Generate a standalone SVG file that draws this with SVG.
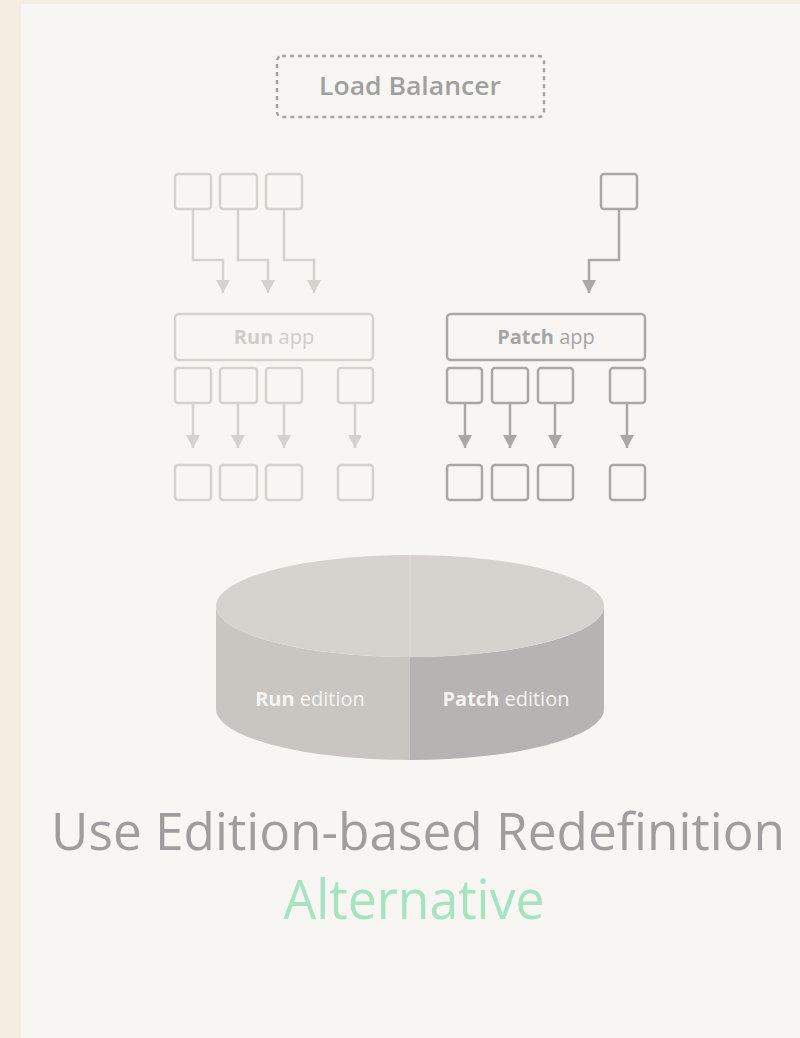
<svg xmlns="http://www.w3.org/2000/svg" width="800" height="1038" viewBox="0 0 800 1038">
<defs>
<style>
.t{font-family:"Open Sans","Noto Sans","DejaVu Sans",sans-serif}
.lb{fill:none;stroke:#a3a3a3;stroke-width:2.5;stroke-dasharray:4 4}
.rb{fill:none;stroke:#d5d2ce;stroke-width:2.5}
.pb{fill:none;stroke:#a9a8a6;stroke-width:2.5}
.rl{fill:none;stroke:#d5d2ce;stroke-width:2.5}
.pl{fill:none;stroke:#a9a8a6;stroke-width:2.5}
</style>
<marker id="ar" viewBox="0 0 13 14" refX="13" refY="7" markerWidth="13" markerHeight="14" markerUnits="userSpaceOnUse" orient="auto"><path d="M0,0 L13,7 L0,14 Z" fill="#d5d2ce"/></marker>
<marker id="ap" viewBox="0 0 13 14" refX="13" refY="7" markerWidth="13" markerHeight="14" markerUnits="userSpaceOnUse" orient="auto"><path d="M0,0 L13,7 L0,14 Z" fill="#a9a8a6"/></marker>
</defs>
<rect width="800" height="1038" fill="#f4eee2"/>
<rect x="21" y="4" width="779" height="1034" fill="#f8f6f2"/>

<g id="load-balancer">
<rect class="lb" x="277" y="56" width="267" height="61" rx="5"/>
<text class="t" x="410" y="95" font-size="25" font-weight="600" fill="#a0a0a0" text-anchor="middle" textLength="182" lengthAdjust="spacingAndGlyphs">Load Balancer</text>
</g>

<g id="run-top">
<rect class="rb" x="175" y="174" width="36" height="35" rx="3"/>
<rect class="rb" x="220" y="174" width="37" height="35" rx="3"/>
<rect class="rb" x="266" y="174" width="36" height="35" rx="3"/>
</g>
<g id="patch-top">
<rect class="pb" x="601" y="174" width="36" height="35" rx="3"/>
</g>

<g id="run-app">
<rect class="rb" x="175" y="314" width="198" height="46" rx="4"/>
<text class="t" x="274" y="344" font-size="20" fill="#d0cdc9" text-anchor="middle"><tspan font-weight="bold">Run</tspan> app</text>
</g>
<g id="patch-app">
<rect class="pb" x="447" y="314" width="198" height="46" rx="4"/>
<text class="t" x="546" y="344" font-size="20" fill="#a6a5a3" text-anchor="middle"><tspan font-weight="bold">Patch</tspan> app</text>
</g>

<g id="run-mid">
<rect class="rb" x="175" y="368" width="36" height="35" rx="3"/>
<rect class="rb" x="220" y="368" width="37" height="35" rx="3"/>
<rect class="rb" x="266" y="368" width="36" height="35" rx="3"/>
<rect class="rb" x="338" y="368" width="35" height="35" rx="3"/>
</g>
<g id="run-bottom">
<rect class="rb" x="175" y="465" width="36" height="35" rx="3"/>
<rect class="rb" x="220" y="465" width="37" height="35" rx="3"/>
<rect class="rb" x="266" y="465" width="36" height="35" rx="3"/>
<rect class="rb" x="338" y="465" width="35" height="35" rx="3"/>
</g>
<g id="patch-mid">
<rect class="pb" x="447" y="368" width="35" height="35" rx="3"/>
<rect class="pb" x="492" y="368" width="36" height="35" rx="3"/>
<rect class="pb" x="538" y="368" width="35" height="35" rx="3"/>
<rect class="pb" x="610" y="368" width="35" height="35" rx="3"/>
</g>
<g id="patch-bottom">
<rect class="pb" x="447" y="465" width="35" height="35" rx="3"/>
<rect class="pb" x="492" y="465" width="36" height="35" rx="3"/>
<rect class="pb" x="538" y="465" width="35" height="35" rx="3"/>
<rect class="pb" x="610" y="465" width="35" height="35" rx="3"/>
</g>

<g id="connectors">
<path class="rl" d="M193,209 V260 H223 V293" marker-end="url(#ar)"/>
<path class="rl" d="M238,209 V260 H268 V293" marker-end="url(#ar)"/>
<path class="rl" d="M284,209 V260 H314 V293" marker-end="url(#ar)"/>
<path class="pl" d="M619,209 V260 H589 V293" marker-end="url(#ap)"/>
<path class="rl" d="M193,403 V448" marker-end="url(#ar)"/>
<path class="rl" d="M238,403 V448" marker-end="url(#ar)"/>
<path class="rl" d="M284,403 V448" marker-end="url(#ar)"/>
<path class="rl" d="M355,403 V448" marker-end="url(#ar)"/>
<path class="pl" d="M465,403 V448" marker-end="url(#ap)"/>
<path class="pl" d="M510,403 V448" marker-end="url(#ap)"/>
<path class="pl" d="M555,403 V448" marker-end="url(#ap)"/>
<path class="pl" d="M627,403 V448" marker-end="url(#ap)"/>
</g>

<g id="database">
<path d="M216,606 V709 A194,51 0 0 0 410,760 V657 A194,51 0 0 1 216,606 Z" fill="#c9c6c2"/>
<path d="M604,606 V709 A194,51 0 0 1 410,760 V657 A194,51 0 0 0 604,606 Z" fill="#b5b4b2"/>
<ellipse cx="410" cy="606" rx="194" ry="51" fill="#d6d3cf"/>
<line x1="410" y1="555" x2="410" y2="657" stroke="#dedbd7" stroke-width="1"/>
<text class="t" x="310" y="706" font-size="20" fill="#f4f3f1" text-anchor="middle"><tspan font-weight="bold">Run</tspan> edition</text>
<text class="t" x="506" y="706" font-size="20" fill="#f4f3f1" text-anchor="middle"><tspan font-weight="bold">Patch</tspan> edition</text>
</g>

<g id="title">
<text class="t" x="418" y="850" font-size="51" fill="#9e9e9e" text-anchor="middle" textLength="734" lengthAdjust="spacingAndGlyphs">Use Edition-based Redefinition</text>
<text class="t" x="414" y="919" font-size="54" fill="#a6e3c0" text-anchor="middle" textLength="261" lengthAdjust="spacingAndGlyphs">Alternative</text>
</g>
</svg>
